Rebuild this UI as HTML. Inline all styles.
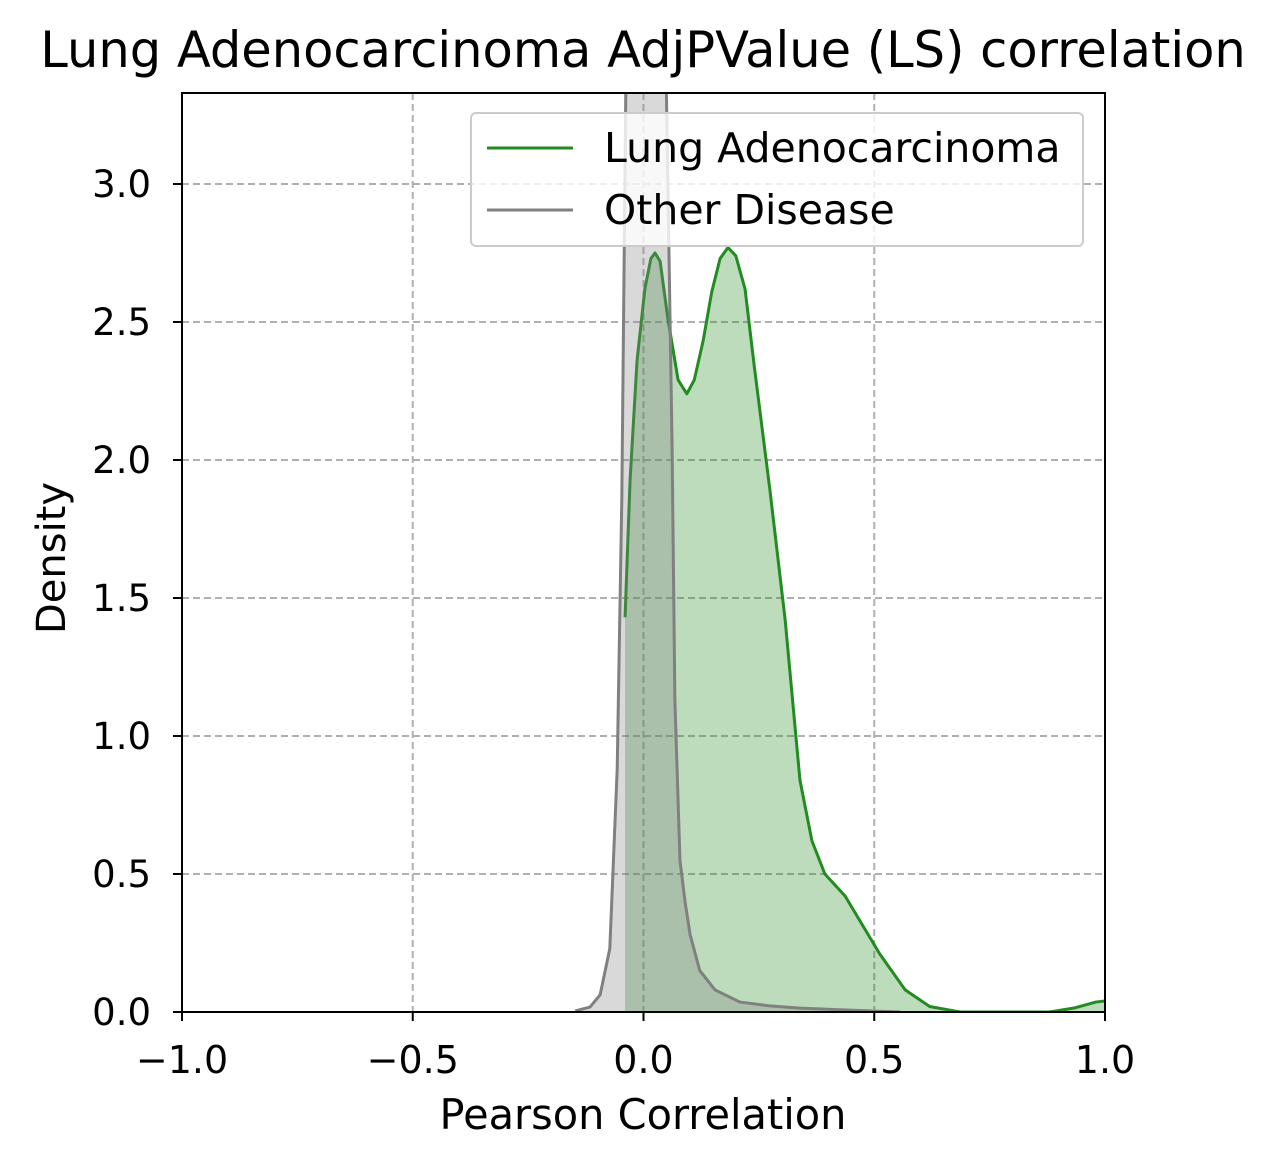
<!DOCTYPE html>
<html><head><meta charset="utf-8"><style>
body{margin:0;background:#fff}
svg{display:block;font-family:"DejaVu Sans","Liberation Sans",sans-serif}
</style></head><body>
<svg id="chart" width="1282" height="1168" viewBox="0 0 1282 1168">
<defs><clipPath id="clip"><rect x="182" y="93" width="923" height="919"/></clipPath></defs>
<text x="643" y="67" font-size="49.5" text-anchor="middle">Lung Adenocarcinoma AdjPValue (LS) correlation</text>
<g id="grid"></g>
<g id="series" clip-path="url(#clip)"></g>
<rect x="182" y="93" width="923" height="919" fill="none" stroke="#000" stroke-width="2"/>
<g id="ticks"></g>
<text x="643" y="1129" font-size="41.5" text-anchor="middle">Pearson Correlation</text>
<text transform="translate(65,558) rotate(-90)" font-size="40" text-anchor="middle">Density</text>
<g>
<rect x="471" y="113" width="612" height="133" rx="5" fill="#fff" fill-opacity="0.8" stroke="#ccc" stroke-width="2"/>
<line x1="487" y1="148" x2="573" y2="148" stroke="#228b22" stroke-width="3"/>
<text x="604" y="162" font-size="41">Lung Adenocarcinoma</text>
<line x1="487" y1="210" x2="573" y2="210" stroke="#808080" stroke-width="3"/>
<text x="604" y="224" font-size="41">Other Disease</text>
</g>
</svg>
<script>
const xTicks=[-1.0,-0.5,0.0,0.5,1.0];
const xTickLabels=["\u22121.0","\u22120.5","0.0","0.5","1.0"];
const yTicks=[0,0.5,1.0,1.5,2.0,2.5,3.0];
const yTickLabels=["0.0","0.5","1.0","1.5","2.0","2.5","3.0"];
const lungX=[-0.040,-0.029,-0.014,0.003,0.016,0.025,0.036,0.053,0.075,0.094,0.11,0.129,0.148,0.166,0.183,0.2,0.22,0.24,0.274,0.307,0.339,0.365,0.393,0.437,0.469,0.512,0.567,0.62,0.686,0.88,0.935,0.98,1.0];
const lungY=[1.43,1.93,2.36,2.62,2.73,2.75,2.72,2.51,2.29,2.24,2.29,2.43,2.61,2.73,2.77,2.74,2.62,2.34,1.89,1.42,0.84,0.62,0.5,0.42,0.33,0.21,0.08,0.02,0,0,0.015,0.036,0.04];
const otherX=[-0.148,-0.116,-0.094,-0.073,-0.057,-0.047,-0.038,-0.023,0.003,0.031,0.049,0.062,0.068,0.079,0.090,0.101,0.122,0.155,0.209,0.274,0.339,0.447,0.556];
const otherY=[0.004,0.018,0.062,0.23,0.88,1.86,3.4,5.0,6.0,5.0,3.4,2.04,1.13,0.55,0.40,0.28,0.15,0.08,0.036,0.022,0.014,0.007,0.0];
const X=v=>643.5+v*461.5, Y=v=>1012-v*276;
const NS="http://www.w3.org/2000/svg";
function mk(t,a,p){const e=document.createElementNS(NS,t);for(const k in a)e.setAttribute(k,a[k]);p.appendChild(e);return e;}
const grid=document.getElementById('grid'),ticks=document.getElementById('ticks'),ser=document.getElementById('series');
xTicks.forEach((v,i)=>{
 if(i>0&&i<xTicks.length-1){const g=mk('line',{x1:X(v),x2:X(v),y1:93,y2:1012,stroke:'#b0b0b0','stroke-width':2,'stroke-dasharray':'7,4'},grid);
 }
 const t=mk('line',{x1:X(v),x2:X(v),y1:1012,y2:1021,stroke:'#000','stroke-width':2},ticks);
 
 const l=mk('text',{x:X(v),y:1073,'font-size':38,'text-anchor':'middle'},ticks);l.textContent=xTickLabels[i];
 
});
yTicks.forEach((v,i)=>{
 if(i>0){const g=mk('line',{x1:182,x2:1105,y1:Y(v),y2:Y(v),stroke:'#b0b0b0','stroke-width':2,'stroke-dasharray':'7,4'},grid);
 }
 const t=mk('line',{x1:173,x2:182,y1:Y(v),y2:Y(v),stroke:'#000','stroke-width':2},ticks);
 
 const l=mk('text',{x:151,y:Y(v)+13,'font-size':37,'text-anchor':'end'},ticks);l.textContent=yTickLabels[i];
 
});
function draw(xs,ys,col,fillOp,name){
 const pts=xs.map((x,i)=>X(x)+','+Y(ys[i])).join(' ');
 const f=mk('polygon',{points:X(xs[0])+','+Y(0)+' '+pts+' '+X(xs[xs.length-1])+','+Y(0),fill:col,'fill-opacity':fillOp},ser);
 
 const l=mk('polyline',{points:pts,fill:'none',stroke:col,'stroke-width':3,'stroke-linejoin':'round'},ser);
 
}
draw(lungX,lungY,'#228b22',0.3,'lung-adenocarcinoma');
draw(otherX,otherY,'#808080',0.3,'other-disease');
</script>
</body></html>
